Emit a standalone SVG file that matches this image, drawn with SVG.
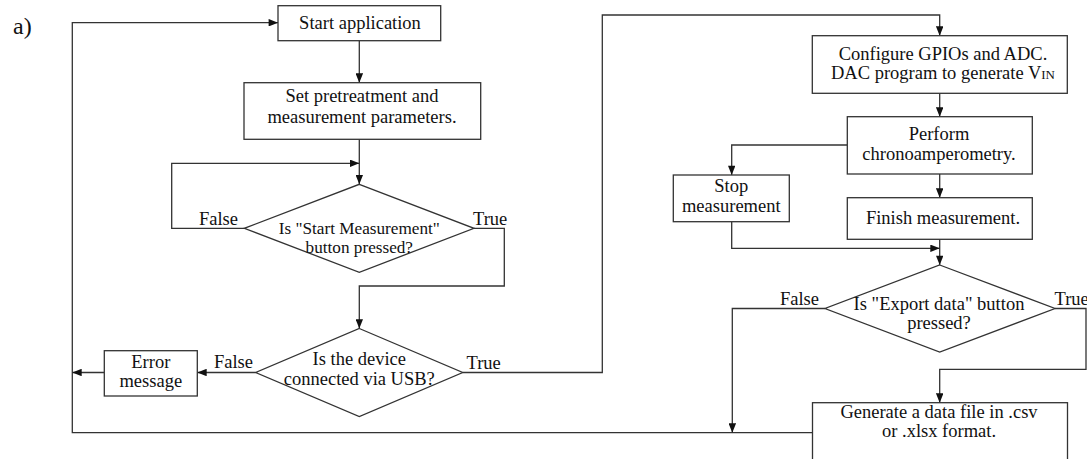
<svg xmlns="http://www.w3.org/2000/svg" width="1087" height="459" viewBox="0 0 1087 459">
  <style>
    .box { fill: #fff; stroke: #333; stroke-width: 1.3; }
    .wire { fill: none; stroke: #333; stroke-width: 1.3; }
    .arr { marker-end: url(#tip); }
    text { font-family: "Liberation Serif", "Times New Roman", serif; font-size: 18.5px; fill: #111; }
    .c { text-anchor: middle; }
    .e { text-anchor: end; }
    .sm { font-size: 17.2px; }
  </style>
  <defs>
    <marker id="tip" viewBox="0 0 10 8" refX="10" refY="4" markerWidth="10" markerHeight="7.5" markerUnits="userSpaceOnUse" orient="auto">
      <path d="M0,0 L10,4 L0,8 z" fill="#111"/>
    </marker>
  </defs>

  <text x="13" y="33.5" style="font-size:24px">a)</text>

  <!-- connectors -->
  <g id="connectors">
    <path class="wire arr" d="M812.5,432.7 H72.3 V22.7 H278"/>
    <path class="wire arr" d="M359.3,41 V82.7"/>
    <path class="wire arr" d="M359.3,139.3 V184.3"/>
    <path class="wire arr" d="M244.3,228.3 H171.7 V163.3 H359.3"/>
    <path class="wire arr" d="M474,228.3 H504.3 V286 H359.3 V328.5"/>
    <path class="wire arr" d="M255.7,372.5 H197.3"/>
    <path class="wire arr" d="M104.3,372.5 H72.3"/>
    <path class="wire arr" d="M462.7,372.5 H602.3 V15 H939.7 V35.7"/>
    <path class="wire arr" d="M939.7,93.3 V116.7"/>
    <path class="wire arr" d="M847.3,145 H731.7 V175"/>
    <path class="wire arr" d="M939.7,174 V197.7"/>
    <path class="wire arr" d="M939.7,239.3 V265"/>
    <path class="wire arr" d="M731.7,221.7 V248.3 H939.7"/>
    <path class="wire arr" d="M825,308.5 H732.3 V432.7"/>
    <path class="wire arr" d="M1055,308.5 H1086 V369.3 H939.7 V402.7"/>
  </g>

  <g id="start">
    <rect class="box" x="278" y="5.7" width="162.7" height="35"/>
    <text class="c" x="360" y="28.5">Start application</text>
  </g>

  <g id="params">
    <rect class="box" x="244" y="82.7" width="236.7" height="56.6"/>
    <text class="c" x="362" y="102">Set pretreatment and</text>
    <text class="c" x="362" y="123">measurement parameters.</text>
  </g>

  <g id="start-pressed">
    <polygon class="box" points="359.3,184.3 474,228.3 359.3,272.3 244.3,228.3"/>
    <text class="c sm" x="359.3" y="233.5">Is "Start Measurement"</text>
    <text class="c sm" x="359.3" y="253">button pressed?</text>
    <text class="e" x="238" y="225">False</text>
    <text x="473" y="225">True</text>
  </g>

  <g id="usb-check">
    <polygon class="box" points="359.3,328.5 462.7,372.5 359.3,416.5 255.7,372.5"/>
    <text class="c" x="359.3" y="365">Is the device</text>
    <text class="c" x="359.3" y="384.5">connected via USB?</text>
    <text class="e" x="253" y="368">False</text>
    <text x="466.5" y="369">True</text>
  </g>

  <g id="error">
    <rect class="box" x="104.3" y="350.7" width="93" height="45.3"/>
    <text class="c" x="150.8" y="367.5">Error</text>
    <text class="c" x="150.8" y="387">message</text>
  </g>

  <g id="configure">
    <rect class="box" x="812.3" y="35.7" width="255" height="57.6"/>
    <text class="c" x="943" y="60">Configure GPIOs and ADC.</text>
    <text class="c" x="943" y="79">DAC program to generate V<tspan style="font-size:13px">IN</tspan></text>
  </g>

  <g id="perform">
    <rect class="box" x="847.3" y="116.7" width="185" height="57.3"/>
    <text class="c" x="939" y="140">Perform</text>
    <text class="c" x="939" y="159.5">chronoamperometry.</text>
  </g>

  <g id="stop">
    <rect class="box" x="673.3" y="175" width="116" height="46.7"/>
    <text class="c" x="731.3" y="192">Stop</text>
    <text class="c" x="731.3" y="211.5">measurement</text>
  </g>

  <g id="finish">
    <rect class="box" x="847.3" y="197.7" width="185" height="41.6"/>
    <text class="c" x="943" y="223.5">Finish measurement.</text>
  </g>

  <g id="export-pressed">
    <polygon class="box" points="939.7,265 1055,308.5 939.7,352 825,308.5"/>
    <text class="c" x="939" y="310">Is "Export data" button</text>
    <text class="c" x="939" y="329">pressed?</text>
    <text class="e" x="819" y="305">False</text>
    <text x="1054.5" y="305">True</text>
  </g>

  <g id="export-file">
    <rect class="box" x="812.5" y="402.7" width="255" height="70"/>
    <text class="c" x="939" y="418">Generate a data file in .csv</text>
    <text class="c" x="939" y="437">or .xlsx format.</text>
  </g>
</svg>
